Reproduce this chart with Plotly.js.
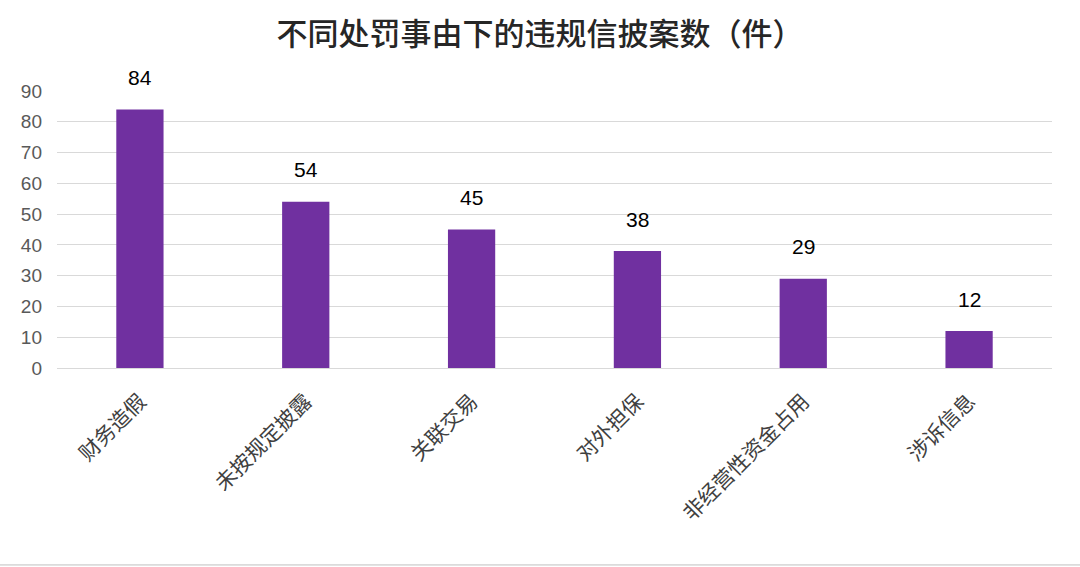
<!DOCTYPE html>
<html>
<head>
<meta charset="utf-8">
<script src="https://cdn.plot.ly/plotly-3.0.1.min.js"></script>
<style>html,body{margin:0;padding:0;background:#fff;}#chart{width:1080px;height:567px;}</style>
</head>
<body>
<div id="chart"></div>
<script>
const categories = ["财务造假", "未按规定披露", "关联交易", "对外担保", "非经营性资金占用", "涉诉信息"];
const caseCounts = [84, 54, 45, 38, 29, 12];
const yTicks = [0, 10, 20, 30, 40, 50, 60, 70, 80, 90];
const chartTitle = "不同处罚事由下的违规信披案数（件）";

const trace = {
  type: "bar",
  x: categories,
  y: caseCounts,
  marker: {color: "#7030A0"},
  hoverinfo: "x+y"
};

const valueLabels = categories.map((c, i) => ({
  x: c, y: caseCounts[i], xref: "x", yref: "y",
  text: String(caseCounts[i]),
  showarrow: false,
  yanchor: "middle",
  yshift: 32,
  font: {family: "Arial, Liberation Sans, sans-serif", size: 21, color: "#000000"}
}));

const layout = {
  width: 1080,
  height: 567,
  margin: {l: 57, r: 28, t: 91, b: 199},
  paper_bgcolor: "#ffffff",
  plot_bgcolor: "#ffffff",
  bargap: 0.715,
  showlegend: false,
  title: {
    text: chartTitle,
    x: 0.5,
    xanchor: "center",
    y: 0.94,
    yanchor: "middle",
    font: {family: "Noto Sans CJK SC, sans-serif", size: 31, color: "#262626", weight: 500}
  },
  xaxis: {
    tickangle: -45,
    tickfont: {family: "Noto Sans CJK SC, sans-serif", size: 21, color: "#404040"},
    showline: false,
    ticks: "",
    showgrid: false,
    ticklabelstandoff: 16
  },
  yaxis: {
    range: [0, 90],
    tickvals: yTicks,
    ticktext: yTicks.map(String),
    tickfont: {family: "Arial, Liberation Sans, sans-serif", size: 19, color: "#595959"},
    showgrid: true,
    gridcolor: "#d9d9d9",
    gridwidth: 1,
    zeroline: true,
    zerolinecolor: "#d9d9d9",
    zerolinewidth: 1,
    showline: false,
    ticks: "",
    ticklabelstandoff: 14
  },
  annotations: valueLabels,
  shapes: [{
    type: "line", xref: "paper", yref: "paper",
    x0: -0.06, x1: 1.03, y0: -0.711, y1: -0.711,
    line: {color: "#bfbfbf", width: 1}
  }]
};

Plotly.newPlot("chart", [trace], layout, {displayModeBar: false, staticPlot: true});
</script>
</body>
</html>
